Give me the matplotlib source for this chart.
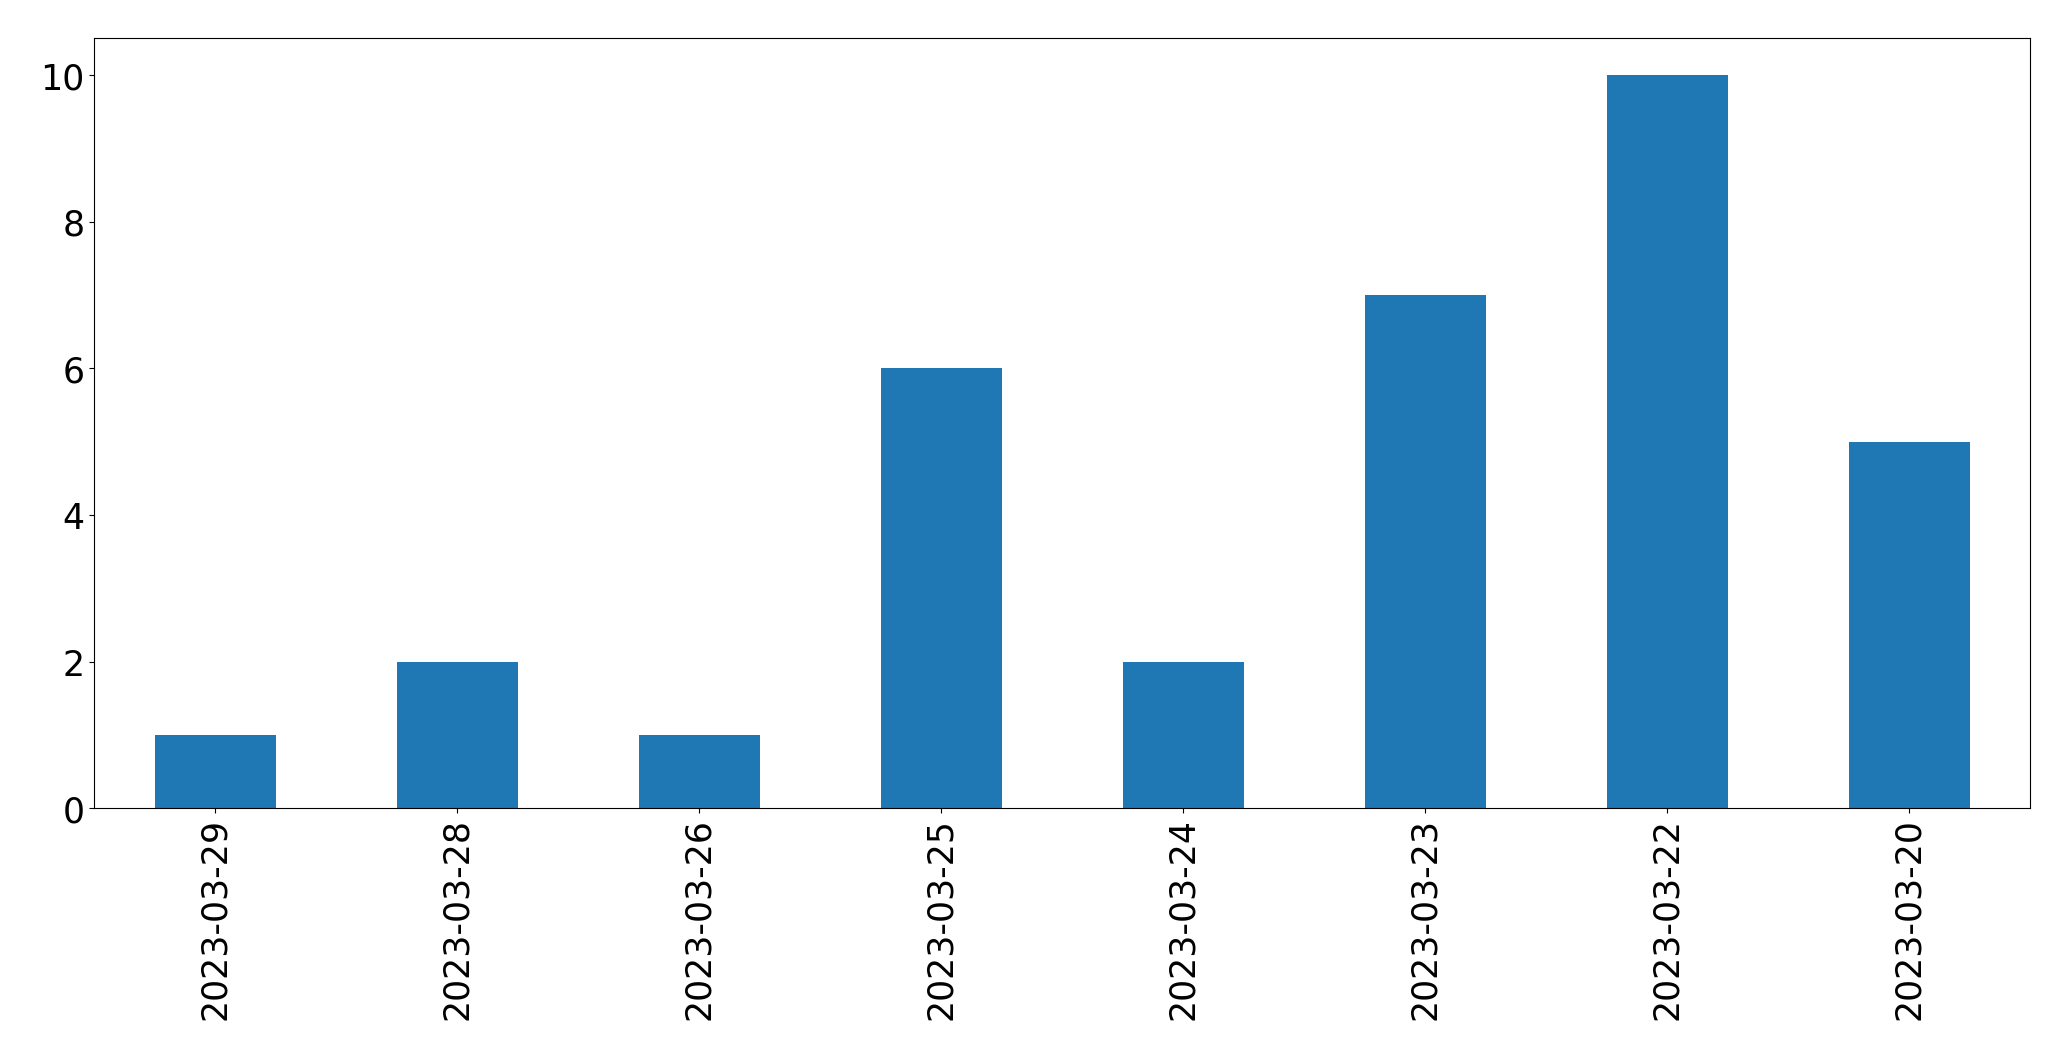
import matplotlib
matplotlib.use('Agg')
import matplotlib.pyplot as plt
import pandas as pd

dates = ['2023-03-29', '2023-03-28', '2023-03-26', '2023-03-25',
         '2023-03-24', '2023-03-23', '2023-03-22', '2023-03-20']
counts = [1, 2, 1, 6, 2, 7, 10, 5]

plt.rcParams['font.size'] = 25

s = pd.Series(counts, index=dates)

fig = plt.figure(figsize=(20.71, 10.605), dpi=100)
ax = fig.add_axes([94 / 2071, 1 - 809 / 1061, (2030 - 94) / 2071, (809 - 39) / 1061])
s.plot(kind='bar', ax=ax, color='#1f77b4')
ax.set_ylim(0, 10.5)

fig.savefig('out.png', dpi=100)
